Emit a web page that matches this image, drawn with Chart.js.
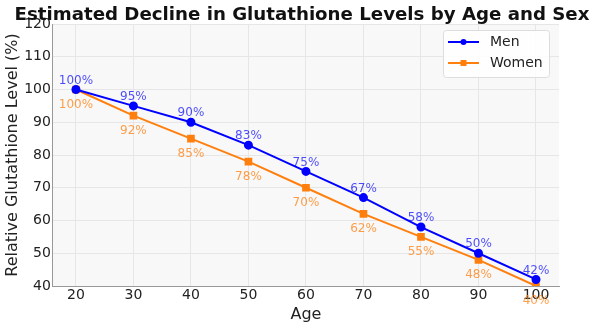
<!DOCTYPE html>
<html>
<head>
<meta charset="utf-8">
<script src="https://cdn.jsdelivr.net/npm/chart.js@4"></script>
<style>
  html, body { margin: 0; padding: 0; background: #fff; }
  #wrap { width: 600px; height: 326px; }
</style>
</head>
<body>
<div id="wrap"><canvas id="glutChart"></canvas></div>
<script>
const ages = [20, 30, 40, 50, 60, 70, 80, 90, 100];
const menLevels = [100, 95, 90, 83, 75, 67, 58, 50, 42];
const womenLevels = [100, 92, 85, 78, 70, 62, 55, 48, 40];
const yTicks = [40, 50, 60, 70, 80, 90, 100, 110, 120];

const FONT = "'DejaVu Sans', sans-serif";
const BLUE = '#0000ff';
const ORANGE = '#ff7f0e';
const TITLE = 'Estimated Decline in Glutathione Levels by Age and Sex';

// light grey plot background, value labels, title and framed legend
const plotDecor = {
  id: 'plotDecor',
  beforeDraw(chart) {
    const { ctx, chartArea: a } = chart;
    ctx.save();
    ctx.fillStyle = '#f8f8f8';
    ctx.fillRect(a.left, a.top, a.right - a.left, a.bottom - a.top);
    ctx.restore();
  },
  afterDatasetsDraw(chart) {
    const { ctx } = chart;
    ctx.save();
    ctx.font = '12px ' + FONT;
    ctx.textAlign = 'center';
    chart.data.datasets.forEach((ds, i) => {
      const meta = chart.getDatasetMeta(i);
      ctx.fillStyle = i === 0 ? 'rgba(0,0,255,0.7)' : 'rgba(255,127,14,0.75)';
      meta.data.forEach((pt, j) => {
        const txt = ds.data[j].y + '%';
        if (i === 0) {
          ctx.textBaseline = 'bottom';
          ctx.fillText(txt, pt.x, pt.y - 3);
        } else {
          ctx.textBaseline = 'top';
          ctx.fillText(txt, pt.x, pt.y + 9);
        }
      });
    });
    ctx.restore();
  },
  afterDraw(chart) {
    const { ctx } = chart;
    ctx.save();
    // title
    ctx.fillStyle = '#111';
    ctx.font = 'bold 18.2px ' + FONT;
    ctx.textAlign = 'center';
    ctx.textBaseline = 'alphabetic';
    ctx.fillText(TITLE, 302, 20);
    // legend
    const x = 443, y = 30, w = 106, h = 47;
    ctx.fillStyle = 'rgba(255,255,255,0.85)';
    ctx.strokeStyle = '#dddddd';
    ctx.lineWidth = 1;
    ctx.beginPath();
    ctx.roundRect(x + 0.5, y + 0.5, w, h, 3);
    ctx.fill();
    ctx.stroke();
    const items = [['Men', BLUE, 'circle'], ['Women', ORANGE, 'rect']];
    items.forEach(([label, col, shape], k) => {
      const cy = y + 12 + k * 21;
      ctx.strokeStyle = col;
      ctx.fillStyle = col;
      ctx.lineWidth = 2;
      ctx.beginPath();
      ctx.moveTo(x + 5, cy);
      ctx.lineTo(x + 36, cy);
      ctx.stroke();
      ctx.beginPath();
      if (shape === 'circle') {
        ctx.arc(x + 20.5, cy, 3, 0, Math.PI * 2);
        ctx.fill();
      } else {
        ctx.fillRect(x + 17.5, cy - 3, 6, 6);
      }
      ctx.fillStyle = '#222';
      ctx.font = '14px ' + FONT;
      ctx.textAlign = 'left';
      ctx.textBaseline = 'middle';
      ctx.fillText(label, x + 47, cy);
    });
    ctx.restore();
  }
};

new Chart(document.getElementById('glutChart'), {
  type: 'line',
  data: {
    datasets: [
      {
        label: 'Men',
        data: ages.map((a, i) => ({ x: a, y: menLevels[i] })),
        borderColor: BLUE,
        backgroundColor: BLUE,
        borderWidth: 2,
        pointStyle: 'circle',
        pointRadius: 3.5,
        tension: 0
      },
      {
        label: 'Women',
        data: ages.map((a, i) => ({ x: a, y: womenLevels[i] })),
        borderColor: ORANGE,
        backgroundColor: ORANGE,
        borderWidth: 2,
        pointStyle: 'rect',
        pointRadius: 4,
        tension: 0
      }
    ]
  },
  options: {
    responsive: true,
    maintainAspectRatio: false,
    animation: false,
    layout: { padding: { left: 3, right: 41, top: 24, bottom: 2 } },
    plugins: {
      legend: { display: false },
      tooltip: { enabled: false },
      title: { display: false }
    },
    scales: {
      x: {
        type: 'linear',
        min: 16,
        max: 104,
        afterBuildTicks: axis => { axis.ticks = ages.map(v => ({ value: v })); },
        grid: { color: '#e6e6e6', drawTicks: false },
        border: { color: '#999', width: 1 },
        ticks: { color: '#222', font: { family: FONT, size: 14 }, padding: 1, maxRotation: 0 },
        title: { display: true, text: 'Age', color: '#222', font: { family: FONT, size: 16 }, padding: { top: 0, bottom: 0 } }
      },
      y: {
        min: 40,
        max: 120,
        afterBuildTicks: axis => { axis.ticks = yTicks.map(v => ({ value: v })); },
        grid: { color: '#e6e6e6', drawTicks: false },
        border: { color: '#999', width: 1 },
        ticks: { color: '#222', font: { family: FONT, size: 14 }, padding: 2 },
        title: { display: true, text: 'Relative Glutathione Level (%)', color: '#222', font: { family: FONT, size: 16 }, padding: { top: 0, bottom: 0 } }
      }
    }
  },
  plugins: [plotDecor]
});
</script>
</body>
</html>
